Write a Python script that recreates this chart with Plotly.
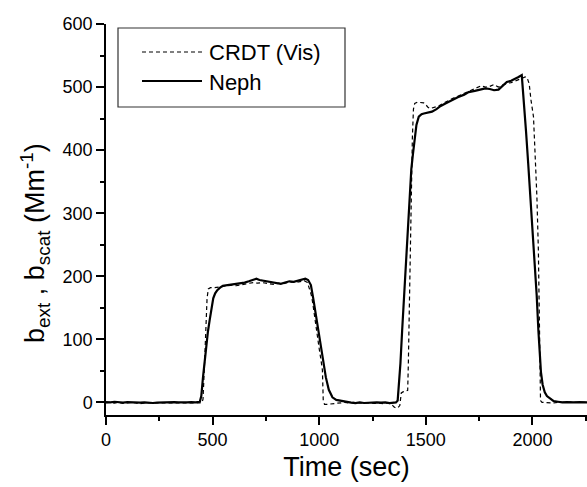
import plotly.graph_objects as go

# podatki odčitani z grafa (čas v s, vrednost v Mm^-1)
cas_neph = [0, 20, 40, 60, 80, 100, 120, 140, 160, 180, 200, 220, 240, 260, 280, 300, 320, 340, 360, 380,
            400, 420, 440, 447, 455, 463, 470, 478, 486, 495, 503, 512, 522, 535, 548, 570, 590, 610, 630, 650,
            670, 690, 705, 720, 740, 760, 780, 800, 820, 840, 860, 880, 900, 920, 935, 948, 961, 972, 984, 996,
            1008, 1020, 1031, 1045, 1062, 1080, 1108, 1130, 1150, 1170, 1190, 1210, 1230, 1250, 1270, 1290,
            1310, 1330, 1350, 1360, 1368, 1375, 1381, 1389, 1398, 1407, 1415, 1423, 1432, 1440, 1448, 1456,
            1467, 1480, 1491, 1510, 1529, 1550, 1570, 1592, 1620, 1650, 1680, 1701, 1730, 1760, 1779, 1800,
            1820, 1841, 1860, 1880, 1900, 1919, 1935, 1950, 1960, 1970, 1980, 1990, 2000, 2010, 2020, 2028,
            2035, 2040, 2048, 2058, 2068, 2082, 2100, 2120, 2140, 2160, 2180, 2200, 2220, 2240, 2260]
neph = [0.5, 0, 1, 0, -0.5, 0.5, 0, -1, -0.5, 0, -1, -1, -0.5, 0, -0.5, 0, 0.5, 0, -0.5, 0,
        0.5, 0, 1, 10, 40, 68, 93, 112, 130, 150, 165, 173, 178, 182, 185, 186, 187, 187, 188, 190,
        192, 194, 196, 194, 193, 192, 191, 189, 188, 190, 192, 191, 193, 195, 196, 194, 186, 165, 141, 114,
        88, 62, 40, 20, 8, 4, 2, 0, -0.5, -1, 0, -1, -0.5, -1, 0, -0.5,
        0, -1, -0.5, 0, 3, 30, 62, 114, 170, 230, 280, 326, 370, 395, 418, 440,
        453, 457, 458, 460, 461, 465, 470, 474, 479, 484, 488, 492, 494, 497, 498, 497,
        495, 496, 502, 508, 510, 514, 516, 519, 480, 430, 380, 330, 280, 225, 170, 114,
        75, 48, 28, 16, 10, 6, 2, 1, 0, 0.5, 0, 0, 0.5, 0, 0]

cas_crdt = [0, 20, 40, 60, 80, 100, 120, 140, 160, 180, 200, 220, 240, 260, 280, 300, 320, 340, 360, 380,
            400, 420, 440, 450, 455, 462, 468, 474, 480, 490, 510, 530, 550, 570, 590, 610, 630, 650, 670, 690,
            710, 730, 750, 770, 790, 810, 830, 850, 870, 890, 910, 930, 945, 955, 963, 969, 980, 990, 1000, 1008,
            1015, 1019, 1025, 1040, 1060, 1080, 1100, 1120, 1140, 1160, 1180, 1200, 1220, 1240, 1260, 1280,
            1300, 1320, 1340, 1350, 1360, 1370, 1378, 1385, 1395, 1405, 1415, 1418, 1422, 1427, 1432, 1437,
            1442, 1448, 1460, 1475, 1490, 1500, 1510, 1520, 1540, 1560, 1580, 1600, 1620, 1640, 1660, 1680,
            1700, 1720, 1740, 1760, 1780, 1800, 1820, 1840, 1860, 1880, 1900, 1920, 1940, 1955, 1966, 1975,
            1985, 1993, 2000, 2005, 2013, 2021, 2028, 2035, 2038, 2045, 2060, 2080, 2100, 2120, 2140, 2160,
            2180, 2200, 2220, 2240, 2260]
crdt = [-1, 0, -1, 0, -1.5, -1, 0, -1, -2, -1, -1, -1.5, -1, -0.5, -1, -1, -0.5, -1.5, -1, -1,
        -0.5, -1, -1, 0, 5, 60, 120, 165, 180, 182, 182, 183, 184, 185, 186, 185, 186, 188, 189, 190,
        189, 190, 189, 188, 187, 189, 188, 190, 191, 190, 192, 193, 190, 180, 170, 159, 130, 105, 85, 68,
        51, 2, -3, -3, -2, -1, -1, 0, -1, 0, -1, -1, 0, -1, -1.5, -1,
        -2, -1, -3, -7, -9, -8, -5, 15, 17, 18, 19, 60, 150, 250, 326, 420,
        465, 474, 476, 476, 475, 472, 468, 466, 468, 470, 474, 478, 481, 484, 487, 490,
        492, 495, 499, 502, 500, 501, 504, 500, 503, 506, 507, 510, 512, 514, 516, 515,
        505, 480, 462, 453, 390, 326, 240, 114, 3, 0, -0.5, 0, -1, 0, -0.5, 0,
        0.5, 0, -0.5, 0, 0]

x_ticks = [0, 500, 1000, 1500, 2000]
y_ticks = [0, 100, 200, 300, 400, 500, 600]

FONT = "Arial, Liberation Sans, sans-serif"

fig = go.Figure()

fig.add_trace(go.Scatter(x=cas_crdt, y=crdt, mode="lines", name="CRDT (Vis)",
                         line=dict(color="black", width=1.2, dash="4px,3px")))
fig.add_trace(go.Scatter(x=cas_neph, y=neph, mode="lines", name="Neph",
                         line=dict(color="black", width=2.2)))

# pretvorba pikslov v paper koordinate (risalna površina 106..587 x 24..415)
def px_x(p):
    return (p - 106) / 481

def px_y(p):
    return (415 - p) / 391

# legenda narisana rocno (daljse crte kot v plotly legendi)
shapes = [
    dict(type="rect", xref="paper", yref="paper", x0=px_x(118), x1=px_x(345), y0=px_y(107), y1=px_y(28),
         line=dict(color="#333", width=1.2), fillcolor="white"),
    dict(type="line", xref="paper", yref="paper", x0=px_x(142), x1=px_x(202), y0=px_y(52), y1=px_y(52),
         line=dict(color="black", width=1.2, dash="4px,3px")),
    dict(type="line", xref="paper", yref="paper", x0=px_x(142), x1=px_x(202), y0=px_y(81), y1=px_y(81),
         line=dict(color="black", width=2.2)),
]
annotations = [
    dict(text="CRDT (Vis)", xref="paper", yref="paper", x=px_x(207), y=px_y(52), xanchor="left",
         yanchor="middle", showarrow=False, font=dict(size=22, color="black", family=FONT)),
    dict(text="Neph", xref="paper", yref="paper", x=px_x(207), y=px_y(82), xanchor="left",
         yanchor="middle", showarrow=False, font=dict(size=22, color="black", family=FONT)),
    # naslov y osi
    dict(text="b<sub>ext</sub> , b<sub>scat</sub> (Mm<sup>-1</sup>)", xref="paper", yref="paper",
         x=0, xshift=-71, y=px_y(243), xanchor="center", yanchor="middle", textangle=-90,
         showarrow=False, font=dict(size=27, color="black", family=FONT)),
]

fig.update_layout(
    width=587, height=487,
    margin=dict(l=106, r=0, t=24, b=72),
    plot_bgcolor="white", paper_bgcolor="white",
    font=dict(family=FONT, size=18, color="black"),
    showlegend=False,
    shapes=shapes,
    annotations=annotations,
)

fig.update_xaxes(
    range=[0, 2256], tickvals=x_ticks, showgrid=False, zeroline=False,
    showline=True, linecolor="black", linewidth=1.5,
    ticks="outside", ticklen=8, tickwidth=1.5, tickcolor="black",
    minor=dict(ticks="outside", ticklen=4, tickwidth=1.5, tickcolor="black", dtick=250),
    title=dict(text="Time (sec)", font=dict(size=27), standoff=8),
)
fig.update_yaxes(
    range=[-20, 600], tickvals=y_ticks, showgrid=False, zeroline=False,
    showline=True, linecolor="black", linewidth=1.5,
    ticks="outside", ticklen=8, tickwidth=1.5, tickcolor="black",
    minor=dict(ticks="outside", ticklen=4, tickwidth=1.5, tickcolor="black", dtick=50, tick0=0),
)

# brez robu strani in brez orodne vrstice, da se graf ujema z oknom
fig.write_html("out.html", config={"displayModeBar": False},
               post_script="document.body.style.margin='0';")
